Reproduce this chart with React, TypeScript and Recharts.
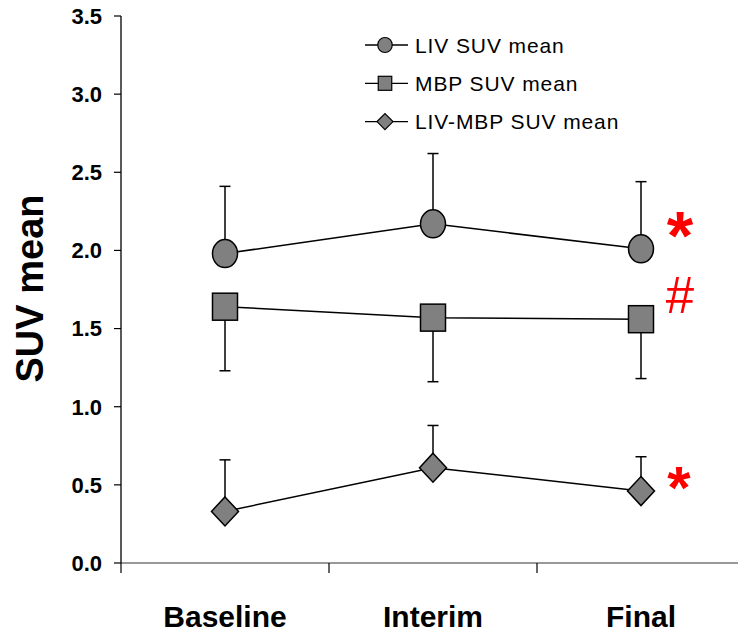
import { LineChart, Line, XAxis, YAxis, ErrorBar, Legend } from 'recharts';

const categories = ['Baseline', 'Interim', 'Final'];
const livMean = [1.98, 2.17, 2.01];
const livUpper = [0.43, 0.45, 0.43];
const mbpMean = [1.64, 1.57, 1.56];
const mbpLower = [0.41, 0.41, 0.38];
const diffMean = [0.33, 0.61, 0.46];
const diffUpper = [0.33, 0.27, 0.22];
const yTicks = [0, 0.5, 1, 1.5, 2, 2.5, 3, 3.5];

const seriesNames = ['LIV SUV mean', 'MBP SUV mean', 'LIV-MBP SUV mean'];
const seriesShapes = ['circle', 'square', 'diamond'];
// significance marks shown next to the last time point
const finalMarks = ['*', '#', '*'];

const data = categories.map((name, i) => ({
  name,
  liv: livMean[i],
  livErr: [0, livUpper[i]],
  mbp: mbpMean[i],
  mbpErr: [mbpLower[i], 0],
  diff: diffMean[i],
  diffErr: [0, diffUpper[i]],
}));

const FONT = '"Liberation Sans", Arial, sans-serif';
const GREY = '#808080';

// per-series placement of the red marks (relative to the marker)
const markStyle = [
  { dx: 39, dy: 10, size: 68, weight: 'bold' },
  { dx: 39, dy: -6, size: 51, weight: 'normal' },
  { dx: 38, dy: 17, size: 60, weight: 'bold' },
];

function Marker({ shape, x, y, w, h, sw = 1.5 }: any) {
  if (shape === 'circle') {
    return <ellipse cx={x} cy={y} rx={w / 2} ry={h / 2} fill={GREY} stroke="#000" strokeWidth={sw} />;
  }
  if (shape === 'square') {
    return <rect x={x - w / 2} y={y - h / 2} width={w} height={h} fill={GREY} stroke="#000" strokeWidth={sw} />;
  }
  const pts = `${x},${y - h / 2} ${x + w / 2},${y} ${x},${y + h / 2} ${x - w / 2},${y}`;
  return <polygon points={pts} fill={GREY} stroke="#000" strokeWidth={sw} />;
}

const dotSize = [
  { w: 25, h: 28 },
  { w: 25, h: 27 },
  { w: 27, h: 29 },
];

const makeDot = (si: number) => (props: any) => {
  const { cx, cy, index } = props;
  const ms = markStyle[si];
  return (
    <g key={`dot-${si}-${index}`}>
      <Marker shape={seriesShapes[si]} x={cx} y={cy} w={dotSize[si].w} h={dotSize[si].h} />
      {index === categories.length - 1 && (
        <text
          x={cx + ms.dx}
          y={cy + ms.dy}
          textAnchor="middle"
          fill="#ff0000"
          fontSize={ms.size}
          fontWeight={ms.weight}
          fontFamily={FONT}
        >
          {finalMarks[si]}
        </text>
      )}
    </g>
  );
};

const XTick = (props: any) => {
  const { x, y, payload } = props;
  const off = payload?.offset || 104;
  return (
    <g>
      <line x1={x - off} x2={x - off} y1={y} y2={y + 10} stroke="#000" strokeWidth={1.2} />
      <text x={x} y={y + 64} textAnchor="middle" fontSize={30} fontWeight="bold" fontFamily={FONT} fill="#000">
        {payload.value}
      </text>
    </g>
  );
};

const LegendBox = () => (
  <svg width={300} height={115} style={{ display: 'block' }}>
    {seriesNames.map((n, i) => {
      const cy = 17 + i * 38.3;
      const legendSize = [
        { w: 14.5, h: 15 },
        { w: 13.5, h: 14 },
        { w: 16, h: 16 },
      ][i];
      return (
        <g key={n}>
          <line x1={7} x2={50} y1={cy} y2={cy} stroke="#000" strokeWidth={1.3} />
          <Marker shape={seriesShapes[i]} x={27} y={cy} w={legendSize.w} h={legendSize.h} sw={1.2} />
          <text x={57} y={cy + 7.5} fontSize={21} letterSpacing={0.9} fontFamily={FONT} fill="#000">
            {n}
          </text>
        </g>
      );
    })}
  </svg>
);

export default function App() {
  return (
    <div style={{ position: 'absolute', left: 0, top: 0, width: 738, height: 633, overflow: 'hidden', background: '#fff' }}>
      <LineChart width={760} height={633} data={data} margin={{ top: 16, right: 15, bottom: 0, left: 0 }}>
        <XAxis
          dataKey="name"
          scale="band"
          height={70}
          axisLine={{ stroke: '#777', strokeWidth: 1.5 }}
          tickLine={false}
          tickSize={0}
          tickMargin={0}
          tick={<XTick />}
          interval={0}
        />
        <YAxis
          width={121}
          domain={[0, 3.5]}
          ticks={yTicks}
          interval={0}
          tickFormatter={(v: number) => v.toFixed(1)}
          axisLine={{ stroke: '#000', strokeWidth: 1.3 }}
          tickLine={{ stroke: '#000', strokeWidth: 1.2 }}
          tickSize={7}
          tickMargin={12}
          tick={{ fontSize: 22, fontWeight: 'bold', fill: '#000', fontFamily: FONT }}
          label={{
            content: (p: any) => {
              const vb = p.viewBox || { y: 16, height: 547 };
              const cy = vb.y + vb.height / 2 - 1;
              return (
                <text
                  x={43}
                  y={cy}
                  transform={`rotate(-90 43 ${cy})`}
                  textAnchor="middle"
                  fontSize={38}
                  fontWeight="bold"
                  fontFamily={FONT}
                  fill="#000"
                >
                  SUV mean
                </text>
              );
            },
          }}
        />
        <Legend
          layout="horizontal"
          align="center"
          verticalAlign="middle"
          wrapperStyle={{ top: 28, left: 358, width: 300 }}
          content={() => <LegendBox />}
        />
        <Line dataKey="liv" name={seriesNames[0]} stroke="#000" strokeWidth={1.5} dot={makeDot(0)} isAnimationActive={false}>
          <ErrorBar dataKey="livErr" width={5.5} stroke="#000" strokeWidth={1.5} direction="y" />
        </Line>
        <Line dataKey="mbp" name={seriesNames[1]} stroke="#000" strokeWidth={1.5} dot={makeDot(1)} isAnimationActive={false}>
          <ErrorBar dataKey="mbpErr" width={5.5} stroke="#000" strokeWidth={1.5} direction="y" />
        </Line>
        <Line dataKey="diff" name={seriesNames[2]} stroke="#000" strokeWidth={1.5} dot={makeDot(2)} isAnimationActive={false}>
          <ErrorBar dataKey="diffErr" width={5.5} stroke="#000" strokeWidth={1.5} direction="y" />
        </Line>
      </LineChart>
    </div>
  );
}
